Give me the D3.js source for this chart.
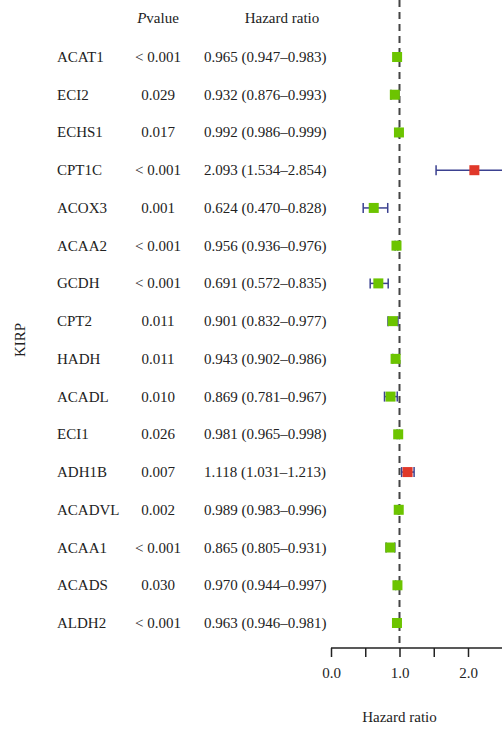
<!DOCTYPE html>
<html>
<head>
<meta charset="utf-8">
<script src="https://cdn.jsdelivr.net/npm/d3@7"></script>
<style>
  html, body { margin: 0; padding: 0; background: #fff; }
  svg { display: block; font-family: "Liberation Serif", "DejaVu Serif", serif; }
</style>
</head>
<body>
<svg id="chart" width="502" height="731"></svg>
<script>
// Genes in display order (top to bottom)
const genes = ["ACAT1", "ECI2", "ECHS1", "CPT1C", "ACOX3", "ACAA2", "GCDH", "CPT2",
  "HADH", "ACADL", "ECI1", "ADH1B", "ACADVL", "ACAA1", "ACADS", "ALDH2"];
const pLabels = ["< 0.001", "0.029", "0.017", "< 0.001", "0.001", "< 0.001", "< 0.001", "0.011",
  "0.011", "0.010", "0.026", "0.007", "0.002", "< 0.001", "0.030", "< 0.001"];
const hr = [0.965, 0.932, 0.992, 2.093, 0.624, 0.956, 0.691, 0.901,
  0.943, 0.869, 0.981, 1.118, 0.989, 0.865, 0.970, 0.963];
const lower = [0.947, 0.876, 0.986, 1.534, 0.470, 0.936, 0.572, 0.832,
  0.902, 0.781, 0.965, 1.031, 0.983, 0.805, 0.944, 0.946];
const upper = [0.983, 0.993, 0.999, 2.854, 0.828, 0.976, 0.835, 0.977,
  0.986, 0.967, 0.998, 1.213, 0.996, 0.931, 0.997, 0.981];
const xTicks = [0, 0.5, 1, 1.5, 2, 2.5];
const xTickLabels = {0: "0.0", 1: "1.0", 2: "2.0"};

const svg = d3.select("#chart");
const fontSize = 15;

const x = d3.scaleLinear().domain([0, 3]).range([331, 536.5]);
const y = d3.scalePoint().domain(genes).range([57, 623]);
const axisY = 648;

// Reference line at HR = 1
svg.append("line")
  .attr("x1", x(1)).attr("x2", x(1))
  .attr("y1", 0).attr("y2", axisY)
  .attr("stroke", "#444").attr("stroke-width", 2)
  .attr("stroke-dasharray", "7,5");

// Column headers
const hdr = svg.append("text").attr("x", 158).attr("y", 23)
  .attr("text-anchor", "middle").attr("font-size", fontSize).attr("fill", "#222");
hdr.append("tspan").attr("font-style", "italic").text("P");
hdr.append("tspan").text("value");
svg.append("text").attr("x", 282).attr("y", 23)
  .attr("text-anchor", "middle").attr("font-size", fontSize).attr("fill", "#222")
  .text("Hazard ratio");

// Cancer type label
svg.append("text")
  .attr("transform", `translate(25,${(y(genes[0]) + y(genes[genes.length - 1])) / 2}) rotate(-90)`)
  .attr("text-anchor", "middle").attr("font-size", fontSize).attr("fill", "#222")
  .text("KIRP");

const rows = svg.append("g").selectAll("g").data(genes).join("g")
  .attr("transform", d => `translate(0,${y(d)})`);

rows.append("text").attr("x", 57).attr("y", 5)
  .attr("font-size", fontSize).attr("fill", "#222").text(d => d);
rows.append("text").attr("x", 158).attr("y", 5).attr("text-anchor", "middle")
  .attr("font-size", fontSize).attr("fill", "#222").text((d, i) => pLabels[i]);
rows.append("text").attr("x", 204).attr("y", 5)
  .attr("font-size", fontSize).attr("fill", "#222")
  .text((d, i) => `${hr[i].toFixed(3)} (${lower[i].toFixed(3)}\u2013${upper[i].toFixed(3)})`);

// Confidence intervals
const ciColor = "#3b4190";
rows.append("line")
  .attr("x1", (d, i) => x(lower[i])).attr("x2", (d, i) => x(upper[i]))
  .attr("y1", 0).attr("y2", 0)
  .attr("stroke", ciColor).attr("stroke-width", 1.5);
rows.append("line")
  .attr("x1", (d, i) => x(lower[i])).attr("x2", (d, i) => x(lower[i]))
  .attr("y1", -5).attr("y2", 5)
  .attr("stroke", ciColor).attr("stroke-width", 1.5);
rows.append("line")
  .attr("x1", (d, i) => x(upper[i])).attr("x2", (d, i) => x(upper[i]))
  .attr("y1", -5).attr("y2", 5)
  .attr("stroke", ciColor).attr("stroke-width", 1.5);

// Point estimates
const sq = 10;
rows.append("rect")
  .attr("x", (d, i) => x(hr[i]) - sq / 2).attr("y", -sq / 2)
  .attr("width", sq).attr("height", sq)
  .attr("fill", (d, i) => hr[i] > 1 ? "#e0382a" : "#6cc400");

// X axis
const axis = d3.axisBottom(x).tickValues(xTicks).tickSize(9)
  .tickFormat(d => xTickLabels[d] || "");
const gAxis = svg.append("g").attr("transform", `translate(0,${axisY})`).call(axis);
gAxis.select(".domain").attr("stroke", "#222").attr("stroke-width", 1.5)
  .attr("d", `M${x(0)},0H${x(3)}`);
gAxis.selectAll(".tick line").attr("stroke", "#222").attr("stroke-width", 1.5);
gAxis.selectAll(".tick text").attr("font-family", "Liberation Serif, DejaVu Serif, serif")
  .attr("font-size", fontSize).attr("fill", "#222").attr("dy", "1.2em");

svg.append("text").attr("x", x(1)).attr("y", 722).attr("text-anchor", "middle")
  .attr("font-size", fontSize).attr("fill", "#222").text("Hazard ratio");
</script>
</body>
</html>
